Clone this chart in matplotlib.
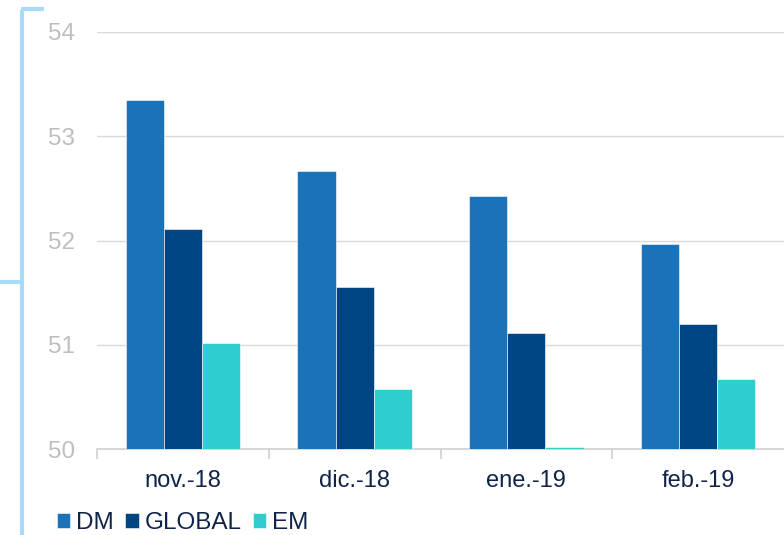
import numpy as np
import matplotlib.pyplot as plt
from matplotlib.lines import Line2D

plt.rcParams['font.family'] = ['Liberation Sans', 'DejaVu Sans']

# datos
categorias = ['nov.-18', 'dic.-18', 'ene.-19', 'feb.-19']
dm = [53.35, 52.67, 52.43, 51.97]
global_ = [52.11, 51.55, 51.11, 51.20]
em = [51.02, 50.58, 50.02, 50.67]
series = ['DM', 'GLOBAL', 'EM']
colores = ['#1a72b8', '#004583', '#2ecece']

fig = plt.figure(figsize=(7.84, 5.35), dpi=100)
ax = fig.add_axes([97 / 784, 1 - 449 / 535, 1 - 97 / 784, (449 - 32) / 535])

x = np.arange(len(categorias))
w = 0.222
for i, (vals, col, nombre) in enumerate(zip([dm, global_, em], colores, series)):
    alturas = np.array(vals) - 50
    ax.bar(x + (i - 1) * w, alturas, w, bottom=50, color=col,
           edgecolor='white', linewidth=0.4, label=nombre, zorder=3)

ax.set_xlim(-0.5, 3.5)
ax.set_ylim(50, 54)
ax.set_yticks([50, 51, 52, 53, 54])
ax.yaxis.grid(True, color='#d9d9d9', linewidth=1, zorder=0)
for s in ['top', 'right', 'left']:
    ax.spines[s].set_visible(False)
ax.spines['bottom'].set_color('#d0d0d0')
ax.spines['bottom'].set_linewidth(1.2)
ax.spines['bottom'].set_zorder(2)

ax.set_xticks(x)
ax.set_xticklabels(categorias, fontsize=17, color='#10244a')
ax.set_xticks(np.arange(-0.5, 3.5, 1), minor=True)
ax.tick_params(axis='x', which='major', length=0, pad=15)
ax.tick_params(axis='x', which='minor', length=7, color='#d0d0d0', width=1.2)
ax.tick_params(axis='y', length=0, labelsize=17.5, labelcolor='#bfbfbf', pad=16)

# leyenda
ax.legend(loc='center left', bbox_to_anchor=(57 / 784, 1 - 523 / 535),
          bbox_transform=fig.transFigure, ncol=3, frameon=False,
          fontsize=17.5, handlelength=0.55, handleheight=0.55, handletextpad=0.25,
          columnspacing=0.45, labelcolor='#10244a', borderaxespad=0, borderpad=0)

# corchete azul claro a la izquierda
azul = '#a8dbf7'
fig.add_artist(Line2D([22 / 784, 22 / 784], [0, 1 - 10 / 535], color=azul, lw=3,
                      transform=fig.transFigure, solid_capstyle='butt'))
fig.add_artist(Line2D([21 / 784, 44 / 784], [1 - 9 / 535, 1 - 9 / 535], color=azul, lw=3,
                      transform=fig.transFigure, solid_capstyle='butt'))
fig.add_artist(Line2D([0, 22 / 784], [1 - 282 / 535, 1 - 282 / 535], color=azul, lw=3,
                      transform=fig.transFigure, solid_capstyle='butt'))

plt.savefig('out.png', dpi=100)
